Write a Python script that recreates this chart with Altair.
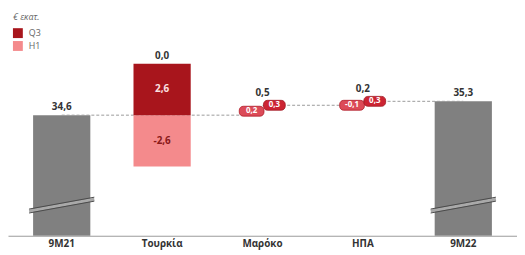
import altair as alt
import pandas as pd

# ---- data ----
categories = ["9M21", "Τουρκία", "Μαρόκο", "ΗΠΑ", "9M22"]
total_start = 34.6
total_end = 35.3
h1_change = [None, -2.6, 0.2, -0.1, None]
q3_change = [None, 2.6, 0.3, 0.3, None]
net_change = [None, 0.0, 0.5, 0.2, None]
axis_floor = 28.5     # broken value axis starts here
axis_ceiling = 39.85
break_from = 29.75
break_to = 30.35
legend_parts = ["Q3", "H1"]


def fmt(v):
    return f"{v:.1f}".replace(".", ",")


totals = pd.DataFrame({
    "cat": [categories[0], categories[-1]],
    "val": [total_start, total_end],
    "base": [axis_floor, axis_floor],
    "label": [fmt(total_start), fmt(total_end)],
    "b0": [break_from, break_from],
    "b1": [break_to, break_to],
})

seg_rows, pill_rows, net_rows = [], [], []
levels = [total_start]
level = total_start
for i in range(1, len(categories) - 1):
    cat = categories[i]
    parts = [("H1", h1_change[i]), ("Q3", q3_change[i])]
    if max(abs(v) for _, v in parts) >= 1:
        ends = []
        for p, v in parts:
            seg_rows.append({"cat": cat, "part": p, "start": level, "end": level + v,
                             "mid": level + v / 2, "label": fmt(v)})
            ends.append(level + v)
        net_rows.append({"cat": cat, "y": max(ends + [level]), "label": fmt(net_change[i]), "kind": "bar"})
    else:
        cur = level
        tops = []
        for p, v in parts:
            top = max(cur, cur + v)
            pill_rows.append({"cat": cat, "part": p, "y": top, "label": fmt(v)})
            tops.append(top)
            cur += v
        net_rows.append({"cat": cat, "y": max(tops), "label": fmt(net_change[i]), "kind": "pill"})
    level = level + net_change[i]
    levels.append(level)

connectors = pd.DataFrame({
    "cat": categories[:-1],
    "to": categories[1:],
    "lvl": levels,
})

segs = pd.DataFrame(seg_rows)
pills = pd.DataFrame(pill_rows)
nets = pd.DataFrame(net_rows)

FONT = "Open Sans"
x_main = alt.X("cat:N", sort=categories, title=None,
               scale=alt.Scale(domain=categories, paddingInner=0.43, paddingOuter=0.25),
               axis=alt.Axis(labelAngle=0, labelAlign="center", labelBaseline="top",
                             ticks=False, domain=True, domainColor="#9a9a9a", domainWidth=1,
                             labelFont=FONT, labelFontWeight="bold", labelFontSize=10,
                             labelColor="#333333", labelPadding=3, zindex=1))
x_plain = alt.X("cat:N", sort=categories, title=None)
y_scale = alt.Scale(domain=[axis_floor, axis_ceiling], zero=False, nice=False)

color_scale = alt.Scale(domain=legend_parts, range=["#a8151c", "#f48a8c"])

total_bars = alt.Chart(totals).mark_bar(color="#808080").encode(
    x=x_main,
    y=alt.Y("val:Q", scale=y_scale, axis=None, title=None),
    y2="base:Q",
)

conn = alt.Chart(connectors).mark_rule(color="#9a9a9a", strokeDash=[3, 2], strokeWidth=1).encode(
    x=x_plain,
    x2="to:N",
    y=alt.Y("lvl:Q", scale=y_scale),
)

break_light = alt.Chart(totals).mark_rule(color="#a9a9a9", strokeWidth=3,
                                          xOffset=-33, x2Offset=33).encode(
    x=x_plain, x2="cat:N",
    y=alt.Y("b0:Q", scale=y_scale), y2="b1:Q",
)
break_dark1 = alt.Chart(totals).mark_rule(color="#4a4a4a", strokeWidth=1,
                                          xOffset=-33, x2Offset=33, yOffset=-2, y2Offset=-2).encode(
    x=x_plain, x2="cat:N",
    y=alt.Y("b0:Q", scale=y_scale), y2="b1:Q",
)
break_dark2 = alt.Chart(totals).mark_rule(color="#4a4a4a", strokeWidth=1,
                                          xOffset=-33, x2Offset=33, yOffset=2, y2Offset=2).encode(
    x=x_plain, x2="cat:N",
    y=alt.Y("b0:Q", scale=y_scale), y2="b1:Q",
)

total_labels = alt.Chart(totals).mark_text(baseline="bottom", dy=-3, font=FONT,
                                           fontWeight="bold", fontSize=10, color="#333333").encode(
    x=x_plain, y=alt.Y("val:Q", scale=y_scale), text="label:N",
)

seg_bars = alt.Chart(segs).mark_bar().encode(
    x=x_plain,
    y=alt.Y("start:Q", scale=y_scale),
    y2="end:Q",
    color=alt.Color("part:N", scale=color_scale, sort=legend_parts,
                    legend=alt.Legend(title="€ εκατ.", orient="none", legendX=5, legendY=2,
                                      symbolType="square", symbolSize=100, symbolStrokeWidth=0,
                                      titleFont=FONT, titleFontSize=9, titleFontWeight="normal",
                                      titleFontStyle="italic",
                                      titleColor="#666666", labelFont=FONT, labelFontSize=9,
                                      labelColor="#666666", rowPadding=3, titlePadding=6,
                                      labelOffset=6)),
)

seg_labels = alt.Chart(segs).mark_text(font=FONT, fontWeight="bold", fontSize=10).encode(
    x=x_plain,
    y=alt.Y("mid:Q", scale=y_scale),
    text="label:N",
    fill=alt.Fill("part:N", scale=alt.Scale(domain=legend_parts, range=["#fbe0e0", "#8a1a1a"]),
                  legend=None),
)

pill_rect_h1 = alt.Chart(pills).transform_filter(alt.datum.part == "H1").mark_tick(
    thickness=10, size=25, cornerRadius=4, xOffset=-11, opacity=1,
    stroke="#b01c28", strokeWidth=0.8).encode(
    x=x_plain, y=alt.Y("y:Q", scale=y_scale),
    color=alt.value("#dc4b58"),
)
pill_rect_q3 = alt.Chart(pills).transform_filter(alt.datum.part == "Q3").mark_tick(
    thickness=10, size=22, cornerRadius=4, xOffset=12, opacity=1,
    stroke="#a01822", strokeWidth=0.8).encode(
    x=x_plain, y=alt.Y("y:Q", scale=y_scale),
    color=alt.value("#cc2433"),
)
pill_text_h1 = alt.Chart(pills).transform_filter(alt.datum.part == "H1").mark_text(
    font=FONT, fontWeight="bold", fontSize=8, color="white", dx=-11).encode(
    x=x_plain, y=alt.Y("y:Q", scale=y_scale), text="label:N",
)
pill_text_q3 = alt.Chart(pills).transform_filter(alt.datum.part == "Q3").mark_text(
    font=FONT, fontWeight="bold", fontSize=8, color="white", dx=12).encode(
    x=x_plain, y=alt.Y("y:Q", scale=y_scale), text="label:N",
)

net_bar_labels = alt.Chart(nets).transform_filter(alt.datum.kind == "bar").mark_text(
    baseline="bottom", dy=-3, font=FONT, fontWeight="bold", fontSize=10, color="#333333").encode(
    x=x_plain, y=alt.Y("y:Q", scale=y_scale), text="label:N",
)
net_pill_labels = alt.Chart(nets).transform_filter(alt.datum.kind == "pill").mark_text(
    baseline="bottom", dy=-7, font=FONT, fontWeight="bold", fontSize=10, color="#333333").encode(
    x=x_plain, y=alt.Y("y:Q", scale=y_scale), text="label:N",
)

chart = alt.layer(
    total_bars, conn, break_light, break_dark1, break_dark2, total_labels,
    seg_bars, seg_labels,
    pill_rect_h1, pill_rect_q3, pill_text_h1, pill_text_q3,
    net_bar_labels, net_pill_labels,
).resolve_scale(fill="independent").properties(
    width=515, height=227, background="white",
    padding={"left": 0, "top": 2, "right": 0, "bottom": 0},
).configure_view(strokeWidth=0, stroke="transparent")

chart.save("out.html", embed_options={"renderer": "svg", "actions": False})
